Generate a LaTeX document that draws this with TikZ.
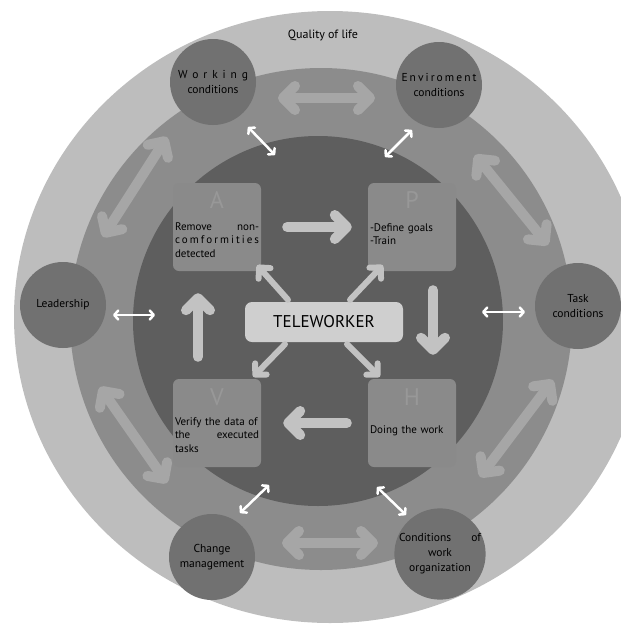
\documentclass[tikz,border=0pt]{standalone}
\usepackage{fontspec}
\setmainfont{PT Sans}
\usetikzlibrary{arrows.meta}
\definecolor{cout}{HTML}{BDBDBD}
\definecolor{cmid}{HTML}{8C8C8C}
\definecolor{ccore}{HTML}{5E5E5E}
\definecolor{csat}{HTML}{717171}
\definecolor{cbox}{HTML}{8A8A8A}
\definecolor{cletter}{HTML}{989898}
\definecolor{carrow}{HTML}{C2C2C2}
\definecolor{cring}{HTML}{A6A6A6}
\definecolor{ctele}{HTML}{CFCFCF}
\tikzset{
  sat/.style={circle, fill=csat, minimum size=86pt, inner sep=0pt, align=center, font=\fontsize{11.5}{15}\selectfont, text=black},
  pdca/.style={rounded corners=6pt, fill=cbox, minimum width=88pt, minimum height=88pt},
  tag/.style={font=\fontsize{24}{24}\selectfont, text=cletter, inner sep=0pt},
  boxtxt/.style={text width=84pt, align=left, inner sep=0pt, font=\fontsize{11}{13.5}\selectfont, text=black},
  telen/.style={rounded corners=7pt, fill=ctele, minimum width=158pt, minimum height=40pt, font=\fontsize{17}{17}\selectfont, text=black},
  cyc/.style={draw=carrow, line width=10pt, line cap=round, -{Straight Barb[round, length=12pt, width=24pt]}},
  spoke/.style={draw=carrow, line width=6pt, line cap=round, -{Straight Barb[round, length=8pt, width=16pt]}},
  link/.style={draw=cring, line width=10pt, {Straight Barb[round, length=12pt, width=24pt]}-{Straight Barb[round, length=12pt, width=24pt]}},
  tie/.style={draw=white, line width=2.5pt, {Straight Barb[round, length=4pt, width=9pt]}-{Straight Barb[round, length=4pt, width=9pt]}},
}
\begin{document}
\begin{tikzpicture}[x=1pt,y=-1pt]
\useasboundingbox (0,0) rectangle (621,625);
% rings
\fill[cout] (330,317) ellipse [x radius=316, y radius=306];
\fill[cmid] (321,319) circle [radius=251];
\coordinate (core) at (318,321);
\fill[ccore] (core) circle [radius=185];
\node[font=\fontsize{12}{12}\selectfont, text=black] (qol) at (323,35) {Quality of life};
% outer factors
\node[sat] (wc) at (213,82) {\makebox[70pt][s]{W\hfill o\hfill r\hfill k\hfill i\hfill n\hfill g}\\conditions};
\node[sat] (ec) at (439,85) {\makebox[75pt][s]{E\hfill n\hfill v\hfill i\hfill r\hfill o\hfill m\hfill e\hfill n\hfill t}\\conditions};
\node[sat] (ld) at (63,305) {Leadership};
\node[sat] (tc) at (578,306) {Task\\conditions};
\node[sat] (cm) at (212,557) {Change\\management};
\node[sat] (cw) at (440,554) {\makebox[82pt][s]{Conditions\hfill of}\\work\\organization};
% ring links
\draw[link] ([shift={(65,16)}]wc.center) -- ([shift={(-64,13)}]ec.center);
\draw[link] ([shift={(70,-14)}]cm.center) -- ([shift={(-62,-11)}]cw.center);
\draw[link] ([shift={(-46,55)}]wc.center) -- ([shift={(40,-68)}]ld.center);
\draw[link] ([shift={(37,82)}]ld.center) -- ([shift={(-45,-74)}]cm.center);
\draw[link] ([shift={(36,70)}]ec.center) -- ([shift={(-30,-61)}]tc.center);
\draw[link] ([shift={(-25,74)}]tc.center) -- ([shift={(40,-77)}]cw.center);
% ties to the core
\draw[tie] ([shift={(35,45)}]wc.center) -- ([shift={(-43,-166)}]core);
\draw[tie] ([shift={(-27,45)}]ec.center) -- ([shift={(67,-164)}]core);
\draw[tie] ([shift={(50,10)}]ld.center) -- ([shift={(-163,-6)}]core);
\draw[tie] ([shift={(-53,6)}]tc.center) -- ([shift={(164,-9)}]core);
\draw[tie] ([shift={(28,-44)}]cm.center) -- ([shift={(-49,164)}]core);
\draw[tie] ([shift={(-34,-39)}]cw.center) -- ([shift={(59,166)}]core);
% PDCA boxes
\node[pdca] (bA) at (217,227) {};
\node[pdca] (bP) at (412,227) {};
\node[pdca] (bV) at (217,423) {};
\node[pdca] (bH) at (412,423) {};
\node[tag] (tA) at ([shift={(0,17)}]bA.north) {A};
\node[tag] (tP) at ([shift={(0,17)}]bP.north) {P};
\node[tag] (tV) at ([shift={(0,18)}]bV.north) {V};
\node[tag] (tH) at ([shift={(0,18)}]bH.north) {H};
\node[boxtxt] (xA) at ([shift={(0,13)}]bA.center) {\makebox[84pt][s]{Remove\hfill non-}\\\makebox[84pt][s]{c\hfill o\hfill m\hfill f\hfill o\hfill r\hfill m\hfill i\hfill t\hfill i\hfill e\hfill s}\\detected};
\node[boxtxt] (xP) at ([shift={(0,7)}]bP.center) {-Define goals\\-Train};
\node[boxtxt] (xV) at ([shift={(0,12)}]bV.center) {\makebox[84pt][s]{Verify the data of}\\\makebox[84pt][s]{the\hfill executed}\\tasks};
\node[boxtxt] (xH) at ([shift={(0,8)}]bH.center) {Doing the work};
% cycle
\draw[cyc, shorten <=26pt, shorten >=16pt] (bA.east) -- (bP.west);
\draw[cyc, shorten <=19pt, shorten >=24pt] ([xshift=21pt]bP.south) -- ([xshift=21pt]bH.north);
\draw[cyc, shorten <=21pt, shorten >=22pt] (bH.west) -- (bV.east);
\draw[cyc, shorten <=22pt, shorten >=22pt] ([xshift=-19pt]bV.north) -- ([xshift=-19pt]bA.south);
% teleworker
\node[telen] (tele) at (324,322) {TELEWORKER};
\draw[spoke] ([shift={(-36,-2)}]tele.north) -- ([shift={(-4,-6)}]bA.south east);
\draw[spoke] ([shift={(26,-2)}]tele.north) -- ([shift={(15,-6)}]bP.south west);
\draw[spoke] ([shift={(-39,2)}]tele.south) -- ([shift={(-8,-2)}]bV.north east);
\draw[spoke] ([shift={(23,2)}]tele.south) -- ([shift={(12,-2)}]bH.north west);
\end{tikzpicture}
\end{document}
